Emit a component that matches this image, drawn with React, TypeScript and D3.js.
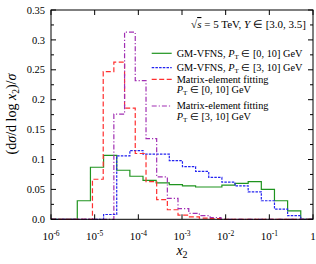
import * as d3 from "d3";

// GM-VFNS bins: edges in x2 (factor 2 per bin)
const gmEdges = [4e-6, 8e-6, 1.6e-5, 3.2e-5, 6.4e-5, 1.28e-4, 2.56e-4, 5.12e-4, 1.024e-3, 2.048e-3, 4.096e-3, 8.192e-3, 1.6384e-2, 3.2768e-2, 6.5536e-2, 0.131072, 0.262144, 0.524288];
const gmPt0 = [0.031, 0.087, 0.107, 0.082, 0.072, 0.065, 0.061, 0.058, 0.056, 0.054, 0.054, 0.057, 0.060, 0.063, 0.050, 0.031, 0.014];
const gmPt3 = [0, 0, 0.008, 0.106, 0.115, 0.109, 0.109, 0.098, 0.088, 0.080, 0.070, 0.062, 0.056, 0.046, 0.031, 0.017, 0.006];

// matrix-element fitting bins
const meEdges = [8.9e-6, 1.57e-5, 2.75e-5, 4.84e-5, 8.5e-5, 1.5e-4, 2.63e-4, 4.62e-4, 8.1e-4, 1.43e-3, 2.5e-3, 4.4e-3, 7.8e-3];
const mePt0 = [0.067, 0.247, 0.263, 0.186, 0.110, 0.063, 0.033, 0.016, 0.007, 0.004, 0.002, 0.001];
const mePt3 = [0, 0, 0.176, 0.313, 0.232, 0.135, 0.071, 0.035, 0.018, 0.010, 0.006, 0.003];

const yTicks = [0, 0.05, 0.1, 0.15, 0.2, 0.25, 0.3, 0.35];
const yTickLabels = ["0.0", "0.05", "0.1", "0.15", "0.2", "0.25", "0.3", "0.35"];
const xTicks = [1e-6, 1e-5, 1e-4, 1e-3, 1e-2, 1e-1, 1];
const xTickExp = ["-6", "-5", "-4", "-3", "-2", "-1", ""];

const FONT = "Liberation Serif, Times New Roman, serif";

export default function App() {
  const width = 316, height = 264;
  const left = 51, right = 313, top = 10, bottom = 219.3;

  const x = d3.scaleLog().domain([1e-6, 1]).range([left, right]);
  const y = d3.scaleLinear().domain([0, 0.35]).range([bottom, top]);

  const stepPath = (edges: number[], vals: number[]) => {
    const pts: [number, number][] = [[1e-6, 0], [edges[0], 0]];
    vals.forEach((v, i) => {
      pts.push([edges[i], v]);
      pts.push([edges[i + 1], v]);
    });
    pts.push([edges[vals.length], 0]);
    pts.push([1, 0]);
    return d3.line<[number, number]>().x(d => x(d[0])).y(d => y(d[1]))(pts) as string;
  };

  const series = [
    { edges: gmEdges, vals: gmPt0, color: "#1f941f", dash: "none" },
    { edges: gmEdges, vals: gmPt3, color: "#2323f0", dash: "2.5 1.2" },
    { edges: meEdges, vals: mePt0, color: "#ff2f2f", dash: "5 2.5" },
    { edges: meEdges, vals: mePt3, color: "#a12fb3", dash: "5 2 1.2 2" },
  ];

  const minorY = d3.range(0.025, 0.35, 0.05);

  const legend = [
    { y: 53.3, color: series[0].color, dash: series[0].dash, l1: "GM-VFNS, ", pt: "[0, 10]", two: false },
    { y: 67.7, color: series[1].color, dash: series[1].dash, l1: "GM-VFNS, ", pt: "[3, 10]", two: false },
    { y: 79.3, color: series[2].color, dash: series[2].dash, l1: "Matrix-element fitting", pt: "[0, 10]", two: true },
    { y: 106, color: series[3].color, dash: series[3].dash, l1: "Matrix-element fitting", pt: "[3, 10]", two: true },
  ];

  const ptText = (range: string) => (
    <>
      <tspan fontStyle="italic">P</tspan>
      <tspan fontSize="7" dy="2">T</tspan>
      <tspan dy="-2">{` \u2208 ${range} GeV`}</tspan>
    </>
  );

  return (
    <svg width={width} height={height} style={{ position: "absolute", left: 0, top: 0 }} fontFamily={FONT}>
      <rect width={width} height={height} fill="white" />
      {series.map((s, i) => (
        <path key={i} d={stepPath(s.edges, s.vals)} fill="none" stroke={s.color}
          strokeWidth={1.2} strokeDasharray={s.dash} />
      ))}
      <rect x={left} y={top} width={right - left} height={bottom - top} fill="none" stroke="black" strokeWidth={1} />
      {yTicks.map((t, i) => (
        <g key={i}>
          <line x1={left} x2={left + 5} y1={y(t)} y2={y(t)} stroke="black" />
          <line x1={right} x2={right - 5} y1={y(t)} y2={y(t)} stroke="black" />
          <text x={45} y={y(t)} dy="0.35em" textAnchor="end" fontSize={10.5}>{yTickLabels[i]}</text>
        </g>
      ))}
      {minorY.map((t, i) => (
        <g key={i}>
          <line x1={left} x2={left + 3} y1={y(t)} y2={y(t)} stroke="black" />
          <line x1={right} x2={right - 3} y1={y(t)} y2={y(t)} stroke="black" />
        </g>
      ))}
      {xTicks.map((t, i) => (
        <g key={i}>
          <line x1={x(t)} x2={x(t)} y1={bottom} y2={bottom - 5} stroke="black" />
          <line x1={x(t)} x2={x(t)} y1={top} y2={top + 5} stroke="black" />
          {xTickExp[i] ? (
            <text x={x(t)} y={240} textAnchor="middle" fontSize={11}>
              10<tspan fontSize={7.5} dy={-4.5}>{xTickExp[i]}</tspan>
            </text>
          ) : (
            <text x={x(t)} y={240} textAnchor="middle" fontSize={11}>1</text>
          )}
        </g>
      ))}
      <text x={182} y={255} textAnchor="middle" fontSize={14}>
        <tspan fontStyle="italic">x</tspan><tspan fontSize={10} dy={3}>2</tspan>
      </text>
      <text transform="translate(16,114) rotate(-90)" textAnchor="middle" fontSize={14}>
        (d<tspan fontStyle="italic">σ</tspan>/d log <tspan fontStyle="italic">x</tspan>
        <tspan fontSize={9.5} dy={2.5}>2</tspan><tspan dy={-2.5}>)/</tspan><tspan fontStyle="italic">σ</tspan>
      </text>
      <text x={306} y={28} textAnchor="end" fontSize={11}>
        √<tspan fontStyle="italic" textDecoration="overline">s</tspan> = 5 TeV, <tspan fontStyle="italic">Y</tspan> ∈ [3.0, 3.5]
      </text>
      {legend.map((l, i) => (
        <g key={i}>
          <line x1={151.7} x2={171.7} y1={l.y} y2={l.y} stroke={l.color} strokeWidth={1.2} strokeDasharray={l.dash} />
          {l.two ? (
            <>
              <text x={176.7} y={l.y + 3.4} fontSize={10.3}>{l.l1}</text>
              <text x={176.7} y={l.y + 13.5} fontSize={10.3}>{ptText(l.pt)}</text>
            </>
          ) : (
            <text x={176.7} y={l.y + 3.4} fontSize={10.3}>{l.l1}{ptText(l.pt)}</text>
          )}
        </g>
      ))}
    </svg>
  );
}
